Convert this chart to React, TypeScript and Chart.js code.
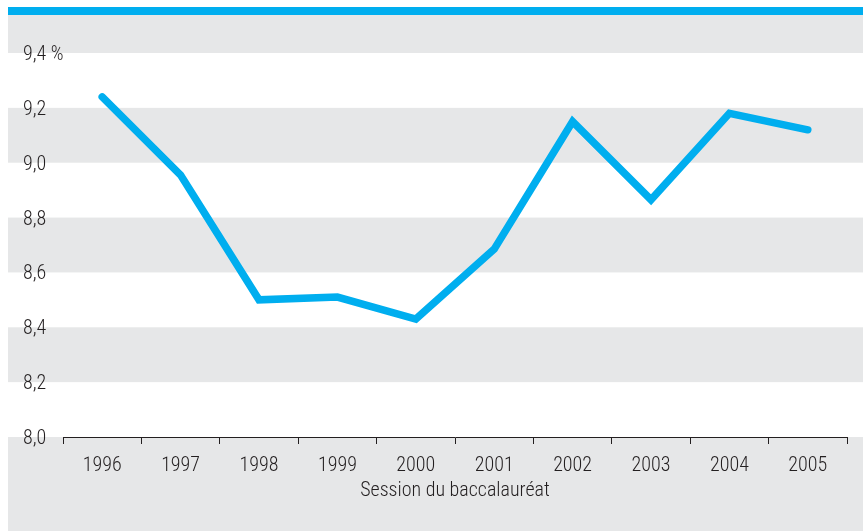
import React, { useEffect, useRef } from "react";
import { Chart, registerables } from "chart.js";

Chart.register(...registerables);

const years = ["1996", "1997", "1998", "1999", "2000", "2001", "2002", "2003", "2004", "2005"];
const rates = [9.24, 8.955, 8.5, 8.51, 8.43, 8.685, 9.15, 8.865, 9.18, 9.12];
const yTicks = [8.0, 8.2, 8.4, 8.6, 8.8, 9.0, 9.2, 9.4];
const xTitle = "Session du baccalauréat";

const BLUE = "#00aeef";
const GRAY = "#e6e7e8";
const TEXT = "#231f20";
const FONT = { family: "Roboto", size: 20, weight: "condensed 300" as any };

const bgPlugin = {
  id: "bands",
  beforeDraw(chart: any) {
    const { ctx, scales, width, height } = chart;
    const y = scales.y;
    const left = 8;
    ctx.save();
    ctx.fillStyle = "#ffffff";
    ctx.fillRect(0, 0, width, height);
    const yTop = y.getPixelForValue(yTicks[yTicks.length - 1]);
    ctx.fillStyle = GRAY;
    ctx.fillRect(left, 15, width - left, yTop - 15);
    for (let i = 0; i < yTicks.length - 1; i++) {
      if (i % 2 === 1) {
        const a = y.getPixelForValue(yTicks[i]);
        const b = y.getPixelForValue(yTicks[i + 1]);
        ctx.fillRect(left, b, width - left, a - b);
      }
    }
    const yBot = y.getPixelForValue(yTicks[0]);
    ctx.fillRect(left, yBot, width - left, height - yBot);
    ctx.fillStyle = BLUE;
    ctx.fillRect(left, 7, width - left, 8);
    ctx.restore();
  },
};

export default function App() {
  const ref = useRef<HTMLCanvasElement>(null);
  useEffect(() => {
    if (!ref.current) return;
    const chart = new Chart(ref.current, {
      type: "line",
      data: {
        labels: years,
        datasets: [
          {
            data: rates,
            borderColor: BLUE,
            borderWidth: 7.5,
            borderCapStyle: "round",
            borderJoinStyle: "miter",
            pointRadius: 0,
            tension: 0,
            fill: false,
          },
        ],
      },
      options: {
        animation: false,
        responsive: true,
        maintainAspectRatio: false,
        layout: { padding: { left: 63, right: 16, top: 53, bottom: 28.5 } },
        plugins: { legend: { display: false }, tooltip: { enabled: false } },
        scales: {
          x: {
            offset: true,
            afterFit(scale: any) {
              scale.height = 65.5;
            },
            grid: {
              display: true,
              offset: true,
              drawOnChartArea: false,
              drawTicks: true,
              tickLength: 7,
              color: TEXT,
              lineWidth: 1,
            },
            border: { display: true, color: TEXT, width: 1 },
            ticks: { color: TEXT, font: FONT, padding: 10, maxRotation: 0 },
            title: {
              display: true,
              text: xTitle,
              color: TEXT,
              font: FONT,
              padding: { top: 0, bottom: 0 },
            },
          },
          y: {
            min: 8.0,
            max: 9.4,
            afterFit(scale: any) {
              scale.width = 0;
            },
            grid: { display: false, drawTicks: false },
            border: { display: false },
            afterBuildTicks(scale: any) {
              scale.ticks = yTicks.map((v) => ({ value: v }));
            },
            ticks: {
              color: TEXT,
              mirror: true,
              crossAlign: "near",
              padding: -40,
              labelOffset: 2,
              font: FONT,
              callback: (v: any) => {
                const s = Number(v).toFixed(1).replace(".", ",");
                return Math.abs(Number(v) - 9.4) < 1e-6 ? s + " %" : s;
              },
            },
          },
        },
      },
      plugins: [bgPlugin],
    } as any);
    return () => chart.destroy();
  }, []);
  return (
    <div style={{ position: "fixed", left: 0, top: 0, width: 863, height: 531 }}>
      <canvas ref={ref} />
    </div>
  );
}
